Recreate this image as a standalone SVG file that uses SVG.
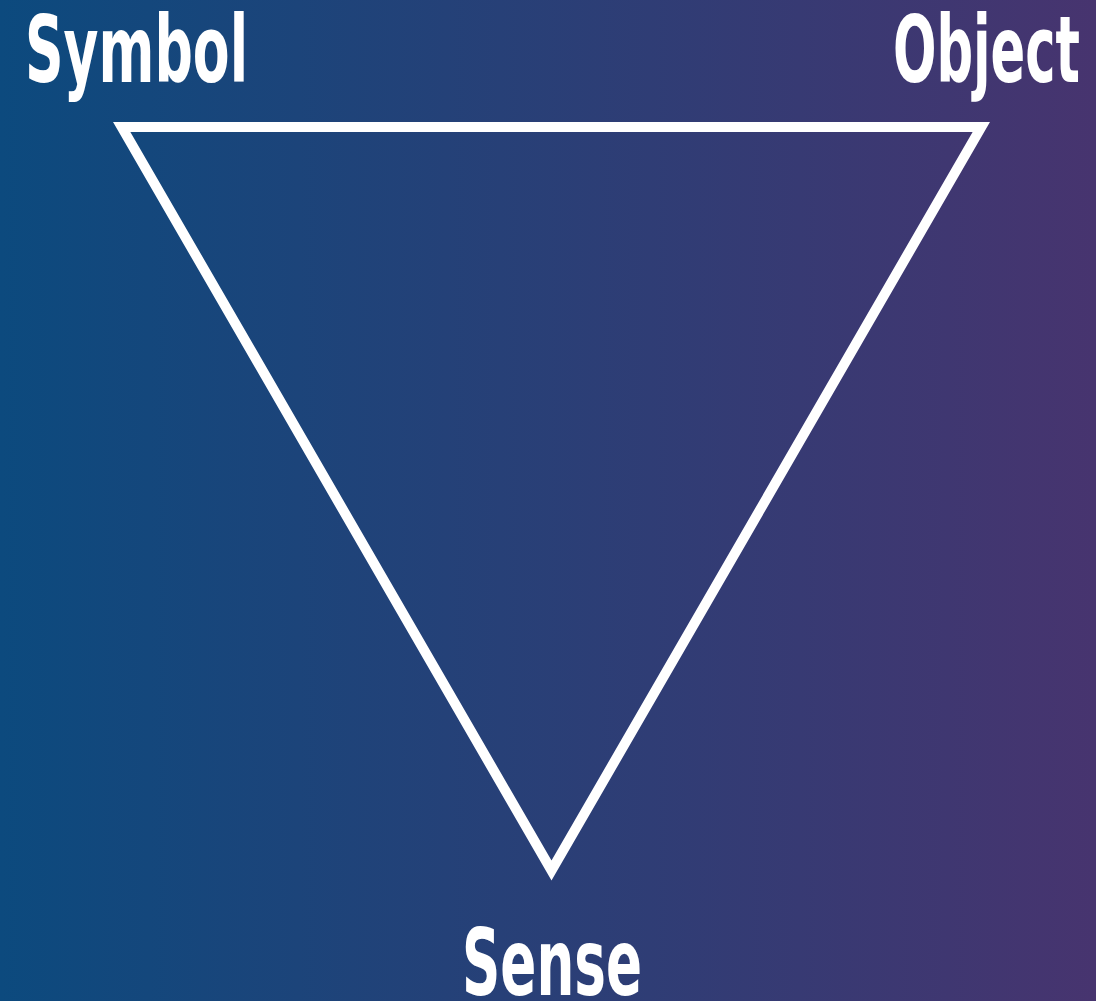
<svg xmlns="http://www.w3.org/2000/svg" width="1096" height="1001" viewBox="0 0 1096 1001">
<defs>
<linearGradient id="bg" x1="0" y1="0" x2="1" y2="0">
<stop offset="0" stop-color="#0c4a7e"/>
<stop offset="1" stop-color="#47346f"/>
</linearGradient>
<style>
.lbl{font-family:"Liberation Sans Narrow","DejaVu Sans Condensed","Liberation Sans",sans-serif;font-weight:bold;font-size:93px;fill:#ffffff}
.edge{fill:none;stroke:#ffffff;stroke-width:10;stroke-linejoin:miter;stroke-miterlimit:10}
</style>
</defs>
<rect x="0" y="0" width="1096" height="1001" fill="url(#bg)"/>
<g id="connectors">
<polygon class="edge" points="121.7,127 981.3,127 551.5,870.5"/>
</g>
<g id="node-symbol">
<text class="lbl" x="25" y="82" textLength="223" lengthAdjust="spacingAndGlyphs">Symbol</text>
</g>
<g id="node-object">
<text class="lbl" x="893" y="82" textLength="187" lengthAdjust="spacingAndGlyphs">Object</text>
</g>
<g id="node-sense">
<text class="lbl" x="462" y="995" textLength="180" lengthAdjust="spacingAndGlyphs">Sense</text>
</g>
</svg>
